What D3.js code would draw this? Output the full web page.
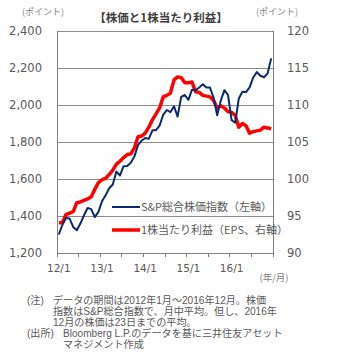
<!DOCTYPE html>
<html><head><meta charset="utf-8">
<script src="https://cdn.jsdelivr.net/npm/d3@7"></script>
<style>
body{margin:0;background:#fff;}
svg{display:block;font-family:"Noto Sans CJK JP","Noto Sans",sans-serif;}
</style></head>
<body><svg id="c" width="358" height="364"></svg>
<script>
const years = ["12","13","14","15","16"];
const months = [];
years.forEach(y => { for (let m = 1; m <= 12; m++) months.push(y + "/" + m); });
const spIndex = [
 1300,1352,1389,1386,1341,1323,1359,1404,1443,1437,1394,1422,
 1480,1512,1550,1570,1640,1619,1669,1670,1688,1721,1783,1807,
 1822,1817,1863,1864,1889,1947,1973,1961,1993,1937,2044,2054,
 2028,2083,2080,2095,2112,2095,2094,2039,1945,2024,2080,2054,
 1918,1904,2035,2072,2070,2095,2149,2178,2158,2150,2170,2252];
const eps = [
 94.1,94.1,95.2,95.4,95.6,96.8,96.9,97.1,97.3,97.6,98.6,99.5,
 99.9,100.1,100.6,101.2,102.0,102.4,102.9,103.3,103.4,104.2,105.7,105.8,
 106.2,107.0,108.0,108.8,109.6,111.1,111.3,111.6,113.4,113.8,113.7,113.0,
 113.0,113.1,111.8,111.7,111.3,111.2,111.1,110.6,109.6,109.9,109.6,109.1,
 109.0,108.6,107.0,107.5,107.2,106.2,106.4,106.5,106.6,107.0,106.9,106.8];
const leftTicks = [1200,1400,1600,1800,2000,2200,2400];
const rightTicks = [90,95,100,105,110,115,120];
const xLabels = ["12/1","13/1","14/1","15/1","16/1"];
const legendLabels = ["S&P総合株価指数（左軸）","1株当たり利益（EPS、右軸）"];
const title = "【株価と1株当たり利益】";
const unitLabel = "(ポイント)";
const xUnit = "(年/月)";
const notes = [
 ["(注)","データの期間は2012年1月～2016年12月。株価"],
 ["","指数はS&P総合指数で、月中平均。但し、2016年"],
 ["","12月の株価は23日までの平均。"],
 ["(出所)","Bloomberg L.P.のデータを基に三井住友アセット"],
 ["","マネジメント作成"]
];

const svg = d3.select("#c");
const L = 57, R = 273, T = 31, B = 253;
const gray = "#595959";
const x = d3.scaleBand().domain(months).range([L, R]);
const yL = d3.scaleLinear().domain([1200,2400]).range([B, T]);
const yR = d3.scaleLinear().domain([90,120]).range([B, T]);

// gridlines
svg.append("g").selectAll("line").data(leftTicks).join("line")
 .attr("x1", L).attr("x2", R).attr("y1", d => yL(d)).attr("y2", d => yL(d))
 .attr("stroke", "#8c8c8c").attr("stroke-width", 1).attr("shape-rendering","crispEdges");

// axes lines
const axC = "#7f7f7f";
svg.append("line").attr("x1",L).attr("x2",L).attr("y1",T).attr("y2",B).attr("stroke",axC).attr("shape-rendering","crispEdges");
svg.append("line").attr("x1",R).attr("x2",R).attr("y1",T).attr("y2",B).attr("stroke",axC).attr("shape-rendering","crispEdges");
svg.append("line").attr("x1",L).attr("x2",R).attr("y1",B).attr("y2",B).attr("stroke",axC).attr("shape-rendering","crispEdges");
// x ticks every 6 months
const tickIdx = d3.range(0, 61, 6);
svg.append("g").selectAll("line").data(tickIdx).join("line")
 .attr("x1", i => L + i * x.step()).attr("x2", i => L + i * x.step())
 .attr("y1", B).attr("y2", B + 4).attr("stroke", axC).attr("shape-rendering","crispEdges");

// tick labels
svg.append("g").selectAll("text").data(leftTicks).join("text")
 .attr("x", 42).attr("y", d => yL(d)).attr("dy","0.36em").attr("text-anchor","end")
 .attr("fill", gray).attr("font-family","Verdana,'DejaVu Sans',sans-serif")
 .style("font-size","11.5px")
 .text(d => d3.format(",")(d));
svg.append("g").selectAll("text").data(rightTicks).join("text")
 .attr("x", 287).attr("y", d => yR(d)).attr("dy","0.36em").attr("text-anchor","start")
 .attr("fill", gray).attr("font-family","Verdana,'DejaVu Sans',sans-serif").style("font-size","11.5px")
 .text(d => d);
svg.append("g").selectAll("text").data(xLabels).join("text")
 .attr("x", d => x(d + "") + x.bandwidth()/2).attr("y", 268).attr("dy","0.36em").attr("text-anchor","middle")
 .attr("fill", gray).attr("font-family","Verdana,'DejaVu Sans',sans-serif").style("font-size","10.5px")
 .text(d => d);

// units
svg.append("text").attr("x", 43).attr("y", 15).attr("text-anchor","middle").attr("fill","#7f7f7f").style("font-size","9px").text(unitLabel);
svg.append("text").attr("x", 277).attr("y", 15).attr("text-anchor","middle").attr("fill","#7f7f7f").style("font-size","9px").text(unitLabel);
svg.append("text").attr("x", 274).attr("y", 281).attr("text-anchor","middle").attr("fill","#7f7f7f").style("font-size","9.5px").text(xUnit);

// title
svg.append("text").attr("x", 161).attr("y", 22).attr("text-anchor","middle").attr("fill","#404040")
 .style("font-size","11.5px").style("font-weight","bold").text(title);

// lines
const cx = i => x(months[i]) + x.bandwidth()/2;
svg.append("path").datum(eps)
 .attr("d", d3.line().x((d,i) => cx(i)).y(d => yR(d)))
 .attr("fill","none").attr("stroke","#ff0000").attr("stroke-width",3.5).attr("stroke-linejoin","round");
svg.append("path").datum(spIndex)
 .attr("d", d3.line().x((d,i) => cx(i)).y(d => yL(d)))
 .attr("fill","none").attr("stroke","#0b2a6b").attr("stroke-width",2).attr("stroke-linejoin","round");

// legend
const leg = [{c:"#0b2a6b", w:2, y:207, t:legendLabels[0]}, {c:"#ff0000", w:3.5, y:230, t:legendLabels[1]}];
const lg = svg.append("g");
lg.selectAll("line").data(leg).join("line")
 .attr("x1",112).attr("x2",140).attr("y1",d=>d.y).attr("y2",d=>d.y).attr("stroke",d=>d.c).attr("stroke-width",d=>d.w);
lg.selectAll("text").data(leg).join("text")
 .attr("x",141).attr("y",d=>d.y).attr("dy","0.36em").attr("fill",gray).style("font-size","11px").text(d=>d.t);

// notes
const ng = svg.append("g").attr("fill", gray).style("font-size","10.1px")
 .style("font-family","'Liberation Sans','Noto Sans CJK JP',sans-serif");
notes.forEach((n, i) => {
  const yy = [300, 311, 322, 333, 344][i];
  if (n[0]) ng.append("text").attr("x", 27).attr("y", yy + 4).text(n[0]);
  ng.append("text").attr("x", i < 3 ? 53 : 63).attr("y", yy + 4).text(n[1]);
});
</script></body></html>
